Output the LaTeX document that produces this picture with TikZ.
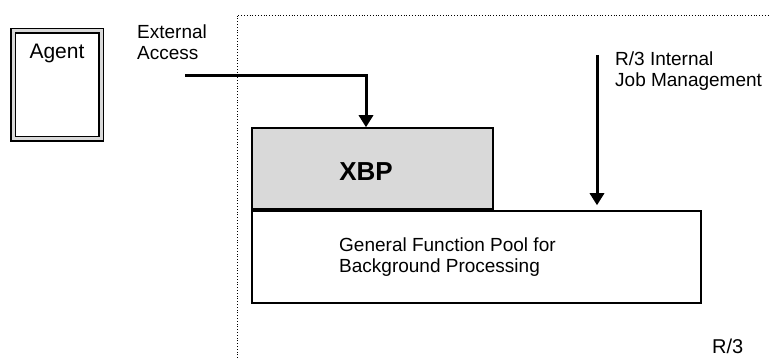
\documentclass[tikz,border=0pt]{standalone}
\usepackage{fontspec}
\setmainfont{Liberation Sans}
\usetikzlibrary{arrows.meta}

\begin{document}
\begin{tikzpicture}[x=1pt,y=-1pt,
  box/.style={draw=black, line width=1.5pt, inner sep=0pt},
  flow/.style={line width=3pt, -{Triangle[width=14pt,length=12pt]}},
  txt/.style={anchor=north west, inner sep=0pt, align=left, font=\fontsize{19}{21}\selectfont}]
\useasboundingbox (0,0) rectangle (769,358);

\draw [dotted, line width=0.8pt] (237,358) |- (769,15);

\node [box, double=black!15, double distance=3pt, minimum width=88pt, minimum height=108pt,
  label={[anchor=north, yshift=-10pt, font=\fontsize{21}{24}\selectfont]north:Agent}] (agent) at (57,85) {};

\node [box, fill=black!15, minimum width=241pt, minimum height=81pt,
  label={[anchor=center, xshift=-6.5pt, yshift=-3.5pt, font=\bfseries\fontsize{26}{30}\selectfont]center:XBP}] (xbp) at (372.5,168.5) {};
\node [box, minimum width=449pt, minimum height=92pt] (gfp) at (476.5,257) {};

\node [txt] (gfptext) at (339,237.5) {General Function Pool for\\Background Processing};
\node [txt] (ext) at (137,25) {External\\Access};
\node [txt] (job) at (615,51.5) {R/3 Internal\\Job Management};
\node [txt, font=\fontsize{20}{24}\selectfont] (r3) at (712,339) {R/3};

\coordinate (extin) at (185,76);
\coordinate (jobin) at (597,55);
\draw [flow] (extin) -| ([xshift=-6.5pt]xbp.north);
\draw [flow, shorten >=5pt] (jobin) -- (jobin |- gfp.north);
\end{tikzpicture}
\end{document}
